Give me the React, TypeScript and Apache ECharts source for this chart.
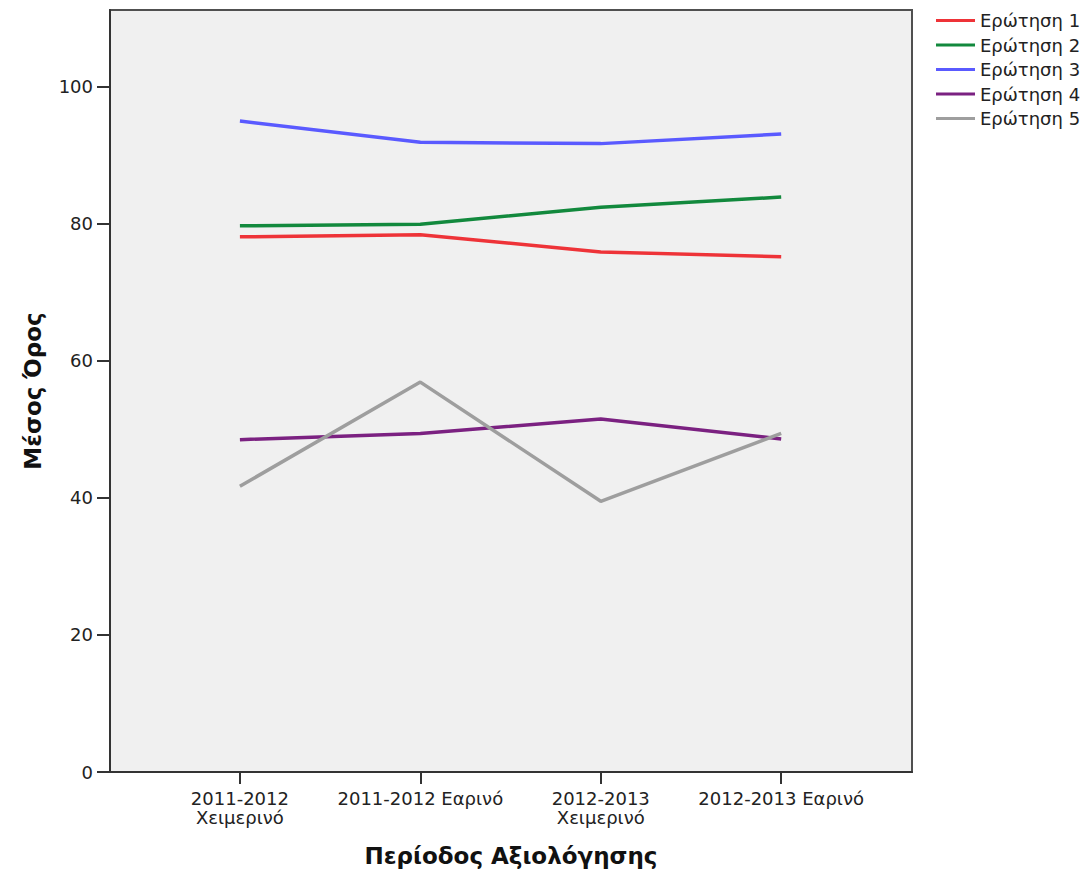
import React, { useEffect, useRef } from "react";
import * as echarts from "echarts";

const categories = [
  "2011-2012\nΧειμερινό",
  "2011-2012 Εαρινό",
  "2012-2013\nΧειμερινό",
  "2012-2013 Εαρινό",
];
const seriesNames = ["Ερώτηση 1", "Ερώτηση 2", "Ερώτηση 3", "Ερώτηση 4", "Ερώτηση 5"];
const q1 = [78.1, 78.4, 75.9, 75.2];
const q2 = [79.7, 79.95, 82.4, 83.9];
const q3 = [95.0, 91.9, 91.7, 93.1];
const q4 = [48.5, 49.4, 51.5, 48.6];
const q5 = [41.7, 56.9, 39.5, 49.4];
const yTicks = [0, 20, 40, 60, 80, 100];
const colors = ["#ee3338", "#12893d", "#5a5aff", "#7b2181", "#9e9e9e"];

export default function App() {
  const ref = useRef<HTMLDivElement>(null);
  useEffect(() => {
    if (!ref.current) return;
    const chart = echarts.init(ref.current, null, { renderer: "svg" });
    const all = [q1, q2, q3, q4, q5];
    const tickFont = "DejaVu Sans";
    chart.setOption({
      animation: false,
      color: colors,
      grid: {
        left: 110,
        top: 10,
        width: 802,
        height: 762,
        show: true,
        backgroundColor: "#f0f0f0",
        borderColor: "#505050",
        borderWidth: 2,
      },
      legend: {
        orient: "vertical",
        left: 931,
        top: 6.5,
        icon: "rect",
        itemWidth: 39,
        itemHeight: 3,
        itemGap: 6.5,
        textStyle: { fontFamily: tickFont, fontSize: 18, color: "#222", lineHeight: 18 },
        data: seriesNames,
      },
      xAxis: {
        type: "value",
        min: -0.72,
        max: 3.725,
        splitLine: { show: false },
        axisLine: { show: true, onZero: false, lineStyle: { color: "#333", width: 2 } },
        axisTick: { show: true, length: 12, lineStyle: { color: "#333", width: 2 }, customValues: [0, 1, 2, 3] },
        axisLabel: {
          customValues: [0, 1, 2, 3],
          formatter: (v: number) => categories[Math.round(v)] ?? "",
          fontFamily: tickFont,
          fontSize: 18,
          lineHeight: 19,
          color: "#222",
          margin: 17,
        },
        name: "Περίοδος Αξιολόγησης",
        nameLocation: "middle",
        nameGap: 84,
        nameTextStyle: {
          fontFamily: "DejaVu Sans",
          fontWeight: "bold",
          fontSize: 23,
          color: "#111",
          verticalAlign: "middle",
        },
      },
      yAxis: {
        type: "value",
        min: 0,
        max: 111.2,
        splitLine: { show: false },
        axisLine: { show: true, onZero: false, lineStyle: { color: "#333", width: 2 } },
        axisTick: { show: true, length: 13, lineStyle: { color: "#333", width: 2 }, customValues: yTicks },
        axisLabel: {
          customValues: yTicks,
          fontFamily: tickFont,
          fontSize: 18,
          color: "#222",
          margin: 17,
        },
        name: "Μέσος Όρος",
        nameLocation: "middle",
        nameGap: 77,
        nameRotate: 90,
        nameTextStyle: {
          fontFamily: "DejaVu Sans",
          fontWeight: "bold",
          fontSize: 23,
          color: "#111",
          verticalAlign: "middle",
        },
      },
      series: all.map((vals, i) => ({
        name: seriesNames[i],
        type: "line",
        showSymbol: false,
        symbol: "none",
        lineStyle: { width: 3.5, color: colors[i] },
        itemStyle: { color: colors[i] },
        data: vals.map((v, j) => [j, v]),
      })),
    });
    return () => chart.dispose();
  }, []);
  return (
    <div
      ref={ref}
      style={{ position: "absolute", left: 0, top: 0, width: 1086, height: 874 }}
    />
  );
}
